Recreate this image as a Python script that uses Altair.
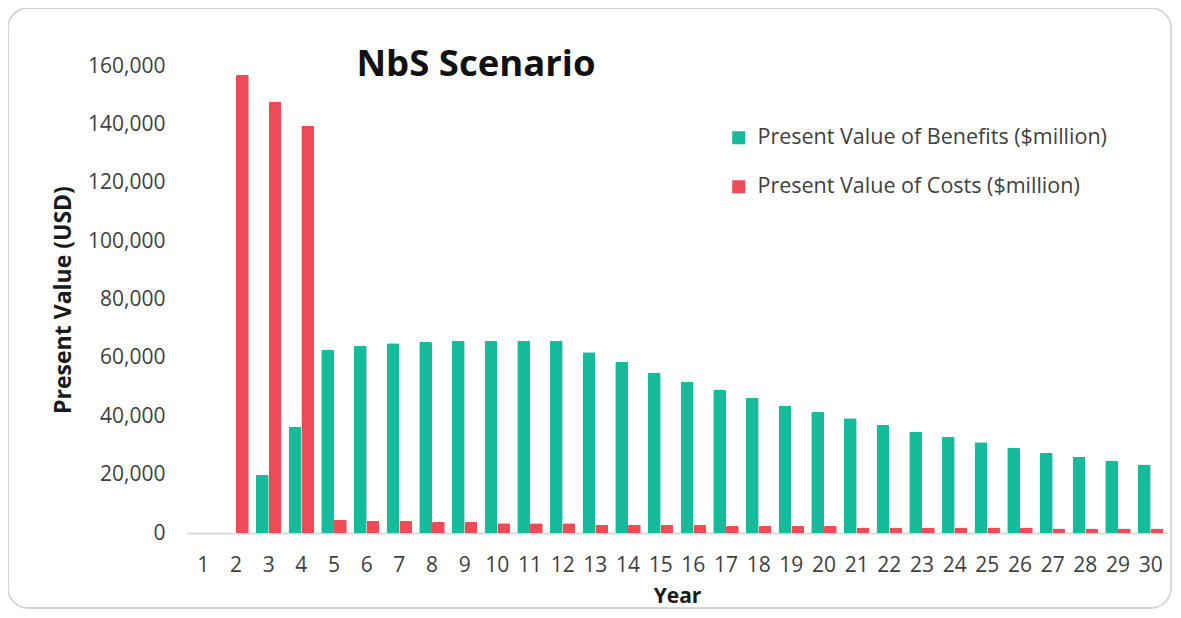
import altair as alt
import pandas as pd

years = list(range(1, 31))
benefits = [0, 0, 19900, 36400, 62700, 64100, 65000, 65400, 65900, 65900,
            65900, 65900, 61900, 58700, 55000, 51800, 49100, 46300, 43600, 41500,
            39300, 37000, 34700, 33000, 31100, 29200, 27500, 26100, 24800, 23500]
costs = [0, 157000, 147800, 139500, 4500, 4200, 4200, 3800, 3800, 3300,
         3300, 3300, 2800, 2800, 2800, 2800, 2400, 2400, 2400, 2400,
         1900, 1900, 1900, 1900, 1900, 1900, 1500, 1500, 1500, 1500]
series_names = ["Present Value of Benefits ($million)", "Present Value of Costs ($million)"]
colors = ["#16BB9B", "#EE4B56"]
y_ticks = [0, 20000, 40000, 60000, 80000, 100000, 120000, 140000, 160000]

rows = []
for yr, b, c in zip(years, benefits, costs):
    rows.append({"Year": yr, "Series": series_names[0], "Value": b})
    rows.append({"Year": yr, "Series": series_names[1], "Value": c})
df = pd.DataFrame(rows)

FONT = "Open Sans"

frame = alt.Chart(pd.DataFrame({"k": [0]})).mark_rect(
    filled=False, stroke="#d6d6d6", strokeWidth=2, cornerRadius=20
).encode(
    x=alt.value(-179), x2=alt.value(984), y=alt.value(-58), y2=alt.value(542)
)

bars = alt.Chart(df).mark_bar(
    cornerRadiusTopLeft=1.5, cornerRadiusTopRight=1.5
).encode(
    x=alt.X("Year:O",
            scale=alt.Scale(paddingInner=0.22, paddingOuter=0.11),
            axis=alt.Axis(title="Year", labelAngle=0, ticks=False,
                          domainColor="#d9d9d9", domainWidth=2,
                          labelFontSize=21, labelColor="#404040", labelFont=FONT,
                          labelPadding=21, titleFont=FONT, titleFontSize=21,
                          titleFontWeight="bold", titleColor="#1a1a1a", titlePadding=10)),
    xOffset=alt.XOffset("Series:N", sort=series_names),
    y=alt.Y("Value:Q",
            scale=alt.Scale(domain=[0, 160000]),
            axis=alt.Axis(title="Present Value (USD)", values=y_ticks, format=",.0f",
                          domain=False, ticks=False, grid=False,
                          labelFontSize=21, labelColor="#404040", labelFont=FONT,
                          labelPadding=22, titleFont=FONT, titleFontSize=23,
                          titleFontWeight="bold", titleColor="#1a1a1a", titlePadding=12)),
    color=alt.Color("Series:N",
                    scale=alt.Scale(domain=series_names, range=colors),
                    legend=alt.Legend(title=None, orient="none", legendX=541, legendY=61,
                                      symbolType="square", symbolSize=170,
                                      symbolStrokeWidth=0, labelFontSize=21.5,
                                      labelFont=FONT, labelColor="#404040",
                                      labelOffset=8, rowPadding=26, labelLimit=600))
)

title = alt.Chart(pd.DataFrame({"t": ["NbS Scenario"]})).mark_text(
    font=FONT, fontSize=36.5, fontWeight="bold", color="#111111",
    align="center", baseline="middle"
).encode(text="t:N", x=alt.value(289), y=alt.value(-1))

chart = alt.layer(frame, bars, title).properties(
    width=980, height=467,
    padding={"left": 179, "top": 58, "right": 6, "bottom": 77},
    autosize=alt.AutoSizeParams(type="none")
).configure(background="white").configure_view(strokeWidth=0, stroke="transparent")

chart.save("out.html", embed_options={"renderer": "svg", "actions": False})
